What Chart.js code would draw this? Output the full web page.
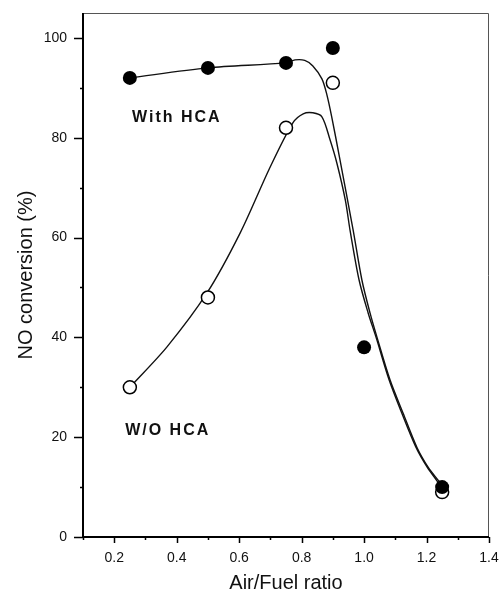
<!DOCTYPE html>
<html>
<head>
<meta charset="utf-8">
<script src="https://cdn.jsdelivr.net/npm/chart.js@4.4.0/dist/chart.umd.min.js"></script>
<style>
  html, body { margin: 0; padding: 0; background: #fff; }
  #wrap { width: 501px; height: 592px; position: relative; }
</style>
</head>
<body>
<div id="wrap"><canvas id="noChart"></canvas></div>
<script>
// measured NO conversion
var ratioWith = [0.25, 0.5, 0.75, 0.9, 1.0, 1.25];
var convWith = [92, 94, 95, 98, 38, 10];
var ratioWithout = [0.25, 0.5, 0.75, 0.9, 1.25];
var convWithout = [30, 48, 82, 91, 9];

// hand-drawn trend curves
var curveWithX = [0.25, 0.5, 0.75, 0.779, 0.81, 0.836, 0.865, 0.881, 0.897, 0.92, 0.965, 0.993, 1.019, 1.041, 1.083, 1.125, 1.169, 1.205, 1.237, 1.25];
var curveWithY = [92, 94, 95, 95.6, 95.5, 94.4, 91.8, 88.6, 84.0, 76.5, 61.5, 51.5, 44.9, 40.1, 31.5, 24.8, 18.0, 14.0, 11.4, 10.4];
var curveWithoutX = [0.25, 0.369, 0.497, 0.603, 0.699, 0.772, 0.805, 0.836, 0.865, 0.891, 0.913, 0.94, 0.955, 0.984, 1.013, 1.038, 1.08, 1.121, 1.166, 1.202, 1.234, 1.247];
var curveWithoutY = [30, 38.1, 48.9, 60.9, 74.1, 83, 84.8, 85, 84.2, 79.6, 74.9, 67.5, 61.5, 51.5, 44.9, 40.1, 31.5, 24.8, 18.0, 14.0, 11.2, 9.8];

// axis ticks
var xTicks = [0.1, 0.2, 0.3, 0.4, 0.5, 0.6, 0.7, 0.8, 0.9, 1.0, 1.1, 1.2, 1.3, 1.4];
var xLabels = ['', '0.2', '', '0.4', '', '0.6', '', '0.8', '', '1.0', '', '1.2', '', '1.4'];
var yTicks = [0, 10, 20, 30, 40, 50, 60, 70, 80, 90, 100];
var yLabels = ['0', '', '20', '', '40', '', '60', '', '80', '', '100'];

// text labels inside the plot
var notes = [
  { text: 'With HCA', x: 0.257, y: 84 },
  { text: 'W/O HCA', x: 0.235, y: 21.4 }
];

function toPoints(xs, ys) {
  return xs.map(function (x, i) { return { x: x, y: ys[i] }; });
}

// frame, tick marks and the two text labels
var framePlugin = {
  id: 'frame',
  afterDraw: function (chart) {
    var ctx = chart.ctx, a = chart.chartArea;
    var xs = chart.scales.x, ys = chart.scales.y;
    ctx.save();
    ctx.strokeStyle = '#555';
    ctx.lineWidth = 1;
    ctx.beginPath();
    ctx.moveTo(a.left, a.top + 0.5);
    ctx.lineTo(a.right - 0.5, a.top + 0.5);
    ctx.lineTo(a.right - 0.5, a.bottom);
    ctx.stroke();

    ctx.strokeStyle = '#000';
    ctx.lineWidth = 2;
    ctx.beginPath();
    ctx.moveTo(a.left, a.top);
    ctx.lineTo(a.left, a.bottom);
    ctx.lineTo(a.right, a.bottom);
    ctx.stroke();

    ctx.lineWidth = 1.5;
    ctx.beginPath();
    xTicks.forEach(function (v, i) {
      var px = Math.round(xs.getPixelForValue(v)) + 0.5;
      var len = xLabels[i] ? 6 : 3;
      ctx.moveTo(px, a.bottom);
      ctx.lineTo(px, a.bottom + len);
    });
    yTicks.forEach(function (v, i) {
      var py = Math.round(ys.getPixelForValue(v)) + 0.5;
      var len = yLabels[i] ? 9 : 3;
      ctx.moveTo(a.left, py);
      ctx.lineTo(a.left - len, py);
    });
    ctx.stroke();

    ctx.fillStyle = '#111';
    ctx.font = 'bold 16px "Liberation Sans", Arial, sans-serif';
    ctx.letterSpacing = '2px';
    ctx.textBaseline = 'middle';
    ctx.textAlign = 'left';
    notes.forEach(function (n) {
      ctx.fillText(n.text, xs.getPixelForValue(n.x), ys.getPixelForValue(n.y));
    });
    ctx.restore();
  }
};

var ctx = document.getElementById('noChart').getContext('2d');
var noChart = new Chart(ctx, {
  type: 'scatter',
  data: {
    datasets: [
      {
        label: 'With HCA',
        data: toPoints(ratioWith, convWith),
        pointRadius: 7,
        pointBackgroundColor: '#000',
        pointBorderColor: '#000',
        pointBorderWidth: 0,
        showLine: false
      },
      {
        label: 'W/O HCA',
        data: toPoints(ratioWithout, convWithout),
        pointRadius: 6.5,
        pointBackgroundColor: '#fff',
        pointBorderColor: '#000',
        pointBorderWidth: 1.5,
        showLine: false
      },
      {
        label: 'With HCA fit',
        data: toPoints(curveWithX, curveWithY),
        showLine: true,
        pointRadius: 0,
        borderColor: '#111',
        borderWidth: 1.4,
        tension: 0.3
      },
      {
        label: 'W/O HCA fit',
        data: toPoints(curveWithoutX, curveWithoutY),
        showLine: true,
        pointRadius: 0,
        borderColor: '#111',
        borderWidth: 1.4,
        tension: 0.3
      }
    ]
  },
  options: {
    responsive: true,
    maintainAspectRatio: false,
    animation: false,
    layout: { padding: { left: 0, top: 13, right: 12, bottom: 0 } },
    plugins: {
      legend: { display: false },
      tooltip: { enabled: false }
    },
    scales: {
      x: {
        type: 'linear',
        min: 0.1,
        max: 1.4,
        grid: { display: false, drawTicks: false },
        border: { display: false },
        afterBuildTicks: function (scale) {
          scale.ticks = xTicks.map(function (v) { return { value: v }; });
        },
        afterFit: function (scale) {
          scale.height = 55;
          scale.paddingLeft = 0;
          scale.paddingRight = 0;
        },
        ticks: {
          padding: 13,
          color: '#111',
          font: { family: '"Liberation Sans", Arial, sans-serif', size: 14 },
          maxRotation: 0,
          autoSkip: false,
          callback: function (value, index) { return xLabels[index]; }
        },
        title: {
          display: true,
          text: 'Air/Fuel ratio',
          color: '#111',
          font: { family: '"Liberation Sans", Arial, sans-serif', size: 20 },
          padding: { top: 0, bottom: -3 }
        }
      },
      y: {
        type: 'linear',
        min: 0,
        max: 105,
        grid: { display: false, drawTicks: false },
        border: { display: false },
        afterBuildTicks: function (scale) {
          scale.ticks = yTicks.map(function (v) { return { value: v }; });
        },
        afterFit: function (scale) {
          scale.width = 83;
          scale.paddingTop = 0;
          scale.paddingBottom = 0;
        },
        ticks: {
          padding: 16,
          color: '#111',
          font: { family: '"Liberation Sans", Arial, sans-serif', size: 14 },
          autoSkip: false,
          callback: function (value, index) { return yLabels[index]; }
        },
        title: {
          display: true,
          text: 'NO conversion (%)',
          color: '#111',
          font: { family: '"Liberation Sans", Arial, sans-serif', size: 20 },
          padding: { top: 14, bottom: 0 }
        }
      }
    }
  },
  plugins: [framePlugin]
});
</script>
</body>
</html>
